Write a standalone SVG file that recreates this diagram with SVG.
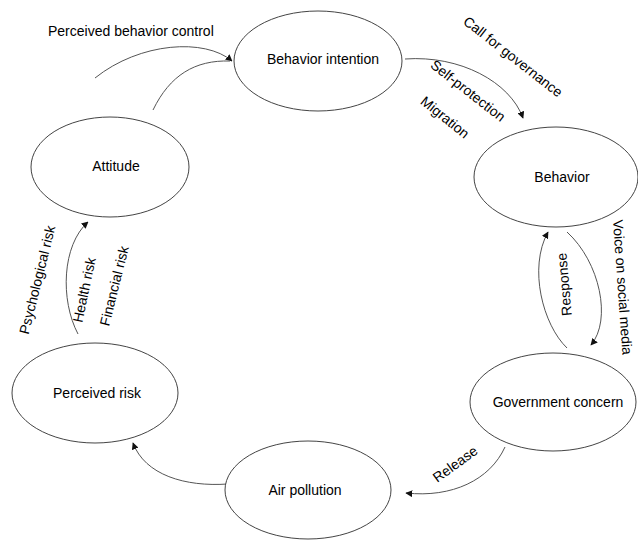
<svg xmlns="http://www.w3.org/2000/svg" width="638" height="540" viewBox="0 0 638 540">
<style>
.node ellipse{fill:#fff;stroke:#444;stroke-width:1}
text{font-family:"Liberation Sans",Arial,sans-serif;font-size:14px;fill:#000}
.nl{text-anchor:middle}
.lbl{text-anchor:middle}
#connectors path{fill:none;stroke:#555;stroke-width:1}
</style>
<defs>
<marker id="arr" viewBox="0 0 10 10" refX="9" refY="5" markerWidth="7" markerHeight="7" markerUnits="userSpaceOnUse" orient="auto">
<path d="M0,0 L10,5 L0,10 z" fill="#111"/>
</marker>
</defs>
<rect width="638" height="540" fill="#fff"/>
<g id="connectors">
<path d="M95,78 C140,42 205,38 232,61" marker-end="url(#arr)"/>
<path d="M153,110 C170,75 195,60 230,61"/>
<path d="M405,59 C460,55 510,82 523,118" marker-end="url(#arr)"/>
<path d="M567,232 C600,262 612,320 591,345" marker-end="url(#arr)"/>
<path d="M567,348 C543,325 528,268 548,232" marker-end="url(#arr)"/>
<path d="M505,447 C490,480 452,498 406,493" marker-end="url(#arr)"/>
<path d="M228,484 C185,487 145,475 133,443" marker-end="url(#arr)"/>
<path d="M78,334 C60,300 62,245 88,222" marker-end="url(#arr)"/>
</g>
<g id="labels">
<text x="48" y="36">Perceived behavior control</text>
<text class="lbl" transform="translate(510,60.5) rotate(38)">Call for governance</text>
<text class="lbl" transform="translate(465,94.5) rotate(38)">Self-protection</text>
<text class="lbl" transform="translate(442,121) rotate(39)">Migration</text>
<text transform="translate(613,220) rotate(86)">Voice on social media</text>
<text class="lbl" transform="translate(569,284) rotate(-95)">Response</text>
<text class="lbl" transform="translate(458,468) rotate(-36)">Release</text>
<text class="lbl" transform="translate(42,281) rotate(-76)">Psychological risk</text>
<text class="lbl" transform="translate(89,291) rotate(-78)">Health risk</text>
<text class="lbl" transform="translate(119,287) rotate(-76)">Financial risk</text>
</g>
<g id="behavior-intention" class="node"><ellipse cx="318" cy="61" rx="84" ry="50"/><text class="nl" x="323" y="64">Behavior intention</text></g>
<g id="attitude" class="node"><ellipse cx="110" cy="167" rx="79" ry="50"/><text class="nl" x="116" y="171">Attitude</text></g>
<g id="behavior" class="node"><ellipse cx="556" cy="177" rx="82" ry="50"/><text class="nl" x="562" y="182">Behavior</text></g>
<g id="government-concern" class="node"><ellipse cx="553" cy="402" rx="83" ry="49"/><text class="nl" x="558" y="407">Government concern</text></g>
<g id="perceived-risk" class="node"><ellipse cx="95" cy="393" rx="83" ry="50"/><text class="nl" x="97" y="398">Perceived risk</text></g>
<g id="air-pollution" class="node"><ellipse cx="308" cy="490" rx="83" ry="49"/><text class="nl" x="305" y="495">Air pollution</text></g>
</svg>
